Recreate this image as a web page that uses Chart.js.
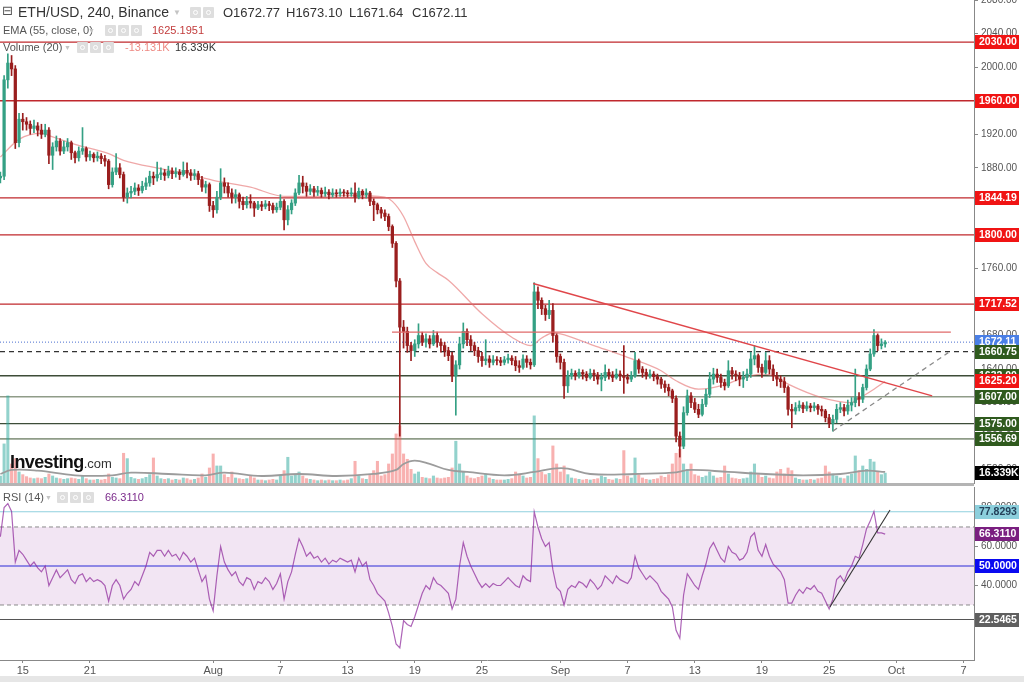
<!DOCTYPE html>
<html>
<head>
<meta charset="utf-8">
<script src="https://cdn.jsdelivr.net/npm/chart.js@4.4.1/dist/chart.umd.min.js"></script>
<style>
html,body{margin:0;padding:0;background:#fff}
body{width:1024px;height:682px;overflow:hidden;position:relative;font-family:"Liberation Sans",Arial,sans-serif}
#mainBox{position:absolute;left:0;top:0;width:1024px;height:484px}
#rsiBox{position:absolute;left:0;top:485px;width:1024px;height:197px}
#sep{position:absolute;left:0;top:483px;width:974px;height:3px;background:#b4b4b4}
#foot{position:absolute;left:0;top:676px;width:1024px;height:6px;background:#e6e6e6}
.t{position:absolute;white-space:nowrap;line-height:1;z-index:5}
.ic{position:absolute;width:11px;height:11px;background:#dedede;border-radius:1px;z-index:5}
.ic::after{content:'';position:absolute;left:3px;top:3px;width:5px;height:5px;border:1px solid #fff;border-radius:50%;box-sizing:border-box}
</style>
</head>
<body>
<div id="foot"></div>
<div id="mainBox"><canvas id="main"></canvas></div>
<div id="rsiBox"><canvas id="rsi"></canvas></div>
<div id="sep"></div>

<div class="t" style="left:2px;top:4px;font-family:'DejaVu Sans';font-size:13px;color:#555">⊟</div>
<div class="t" style="left:18px;top:5px;font-size:14px;color:#333">ETH/USD, 240, Binance</div>
<div class="t" style="left:173px;top:9px;font-size:8px;color:#c4c4c4">▼</div>
<div class="ic" style="left:190px;top:7px"></div><div class="ic" style="left:203px;top:7px"></div>
<div class="t" style="left:223px;top:6px;font-size:13px;color:#333">O1672.77</div>
<div class="t" style="left:286px;top:6px;font-size:13px;color:#333">H1673.10</div>
<div class="t" style="left:349px;top:6px;font-size:13px;color:#333">L1671.64</div>
<div class="t" style="left:412px;top:6px;font-size:13px;color:#333">C1672.11</div>

<div class="t" style="left:3px;top:25px;font-size:11px;color:#555">EMA (55, close, 0)</div>
<div class="t" style="left:88px;top:27px;font-size:7px;color:#c4c4c4">▼</div>
<div class="ic" style="left:105px;top:25px"></div><div class="ic" style="left:118px;top:25px"></div><div class="ic" style="left:131px;top:25px"></div>
<div class="t" style="left:152px;top:25px;font-size:11px;color:#c23b3b">1625.1951</div>

<div class="t" style="left:3px;top:42px;font-size:11px;color:#555">Volume (20)</div>
<div class="t" style="left:64px;top:44px;font-size:7px;color:#c4c4c4">▼</div>
<div class="ic" style="left:77px;top:42px"></div><div class="ic" style="left:90px;top:42px"></div><div class="ic" style="left:103px;top:42px"></div>
<div class="t" style="left:125px;top:42px;font-size:11px;color:#ee8a84">-13.131K</div>
<div class="t" style="left:175px;top:42px;font-size:11px;color:#333">16.339K</div>

<div class="t" style="left:10px;top:453px;font-size:18px;font-weight:bold;letter-spacing:-0.6px;color:#111">Investing<span style="font-size:13px;font-weight:normal;letter-spacing:0;color:#333">.com</span></div>

<div class="t" style="left:3px;top:492px;font-size:11px;color:#555">RSI (14)</div>
<div class="t" style="left:45px;top:494px;font-size:7px;color:#c4c4c4">▼</div>
<div class="ic" style="left:57px;top:492px"></div><div class="ic" style="left:70px;top:492px"></div><div class="ic" style="left:83px;top:492px"></div>
<div class="t" style="left:105px;top:492px;font-size:11px;color:#7b2a8b">66.3110</div>

<script>
// ---------- DATA (ETH/USD, Binance, 8-hour bars from 13 Jul 2023 00:00 UTC) ----------
const FIRST_BAR = Date.UTC(2023, 6, 13);
const BAR_HOURS = 8;

const OPEN = [
1868,1870,1985,2005,1998,1910,1938,1935,1932,1927,
1930,1925,1920,1925,1895,1905,1912,1900,1905,1910,
1898,1892,1900,1903,1893,1896,1892,1894,1891,1888,
1860,1875,1880,1872,1845,1850,1852,1856,1853,1858,
1862,1870,1868,1872,1874,1871,1876,1873,1875,1872,
1877,1874,1871,1873,1866,1857,1860,1835,1830,1845,
1862,1858,1850,1845,1848,1840,1836,1840,1838,1832,
1836,1834,1837,1835,1830,1833,1840,1818,1830,1838,
1850,1862,1858,1852,1855,1851,1853,1849,1851,1848,
1850,1849,1851,1850,1849,1850,1845,1852,1848,1850,
1840,1836,1830,1826,1822,1810,1790,1745,1690,1685,
1668,1662,1670,1680,1672,1676,1670,1680,1672,1668,
1662,1656,1632,1645,1670,1685,1675,1668,1662,1655,
1650,1652,1648,1651,1650,1648,1651,1653,1650,1644,
1642,1652,1648,1645,1732,1722,1712,1705,1710,1680,
1655,1648,1620,1632,1635,1632,1636,1634,1630,1635,
1633,1628,1630,1636,1633,1630,1634,1632,1630,1628,
1632,1650,1640,1636,1632,1634,1631,1628,1622,1618,
1614,1605,1560,1548,1588,1608,1600,1592,1586,1598,
1610,1628,1634,1630,1624,1620,1638,1634,1632,1628,
1630,1634,1652,1656,1642,1636,1650,1640,1632,1628,
1625,1618,1592,1590,1594,1597,1593,1596,1594,1596,
1592,1590,1582,1575,1580,1592,1594,1590,1597,1600,
1606,1604,1618,1640,1658,1680,1668,1670];

const HIGH = [
1875,1990,2016,2014,2002,1945,1945,1940,1936,1937,
1934,1932,1932,1928,1910,1918,1915,1912,1915,1912,
1900,1905,1928,1905,1900,1898,1899,1897,1895,1890,
1880,1897,1885,1875,1856,1858,1862,1860,1864,1868,
1876,1875,1887,1880,1878,1882,1880,1880,1878,1887,
1886,1878,1878,1876,1870,1864,1862,1840,1852,1879,
1868,1862,1855,1854,1850,1845,1846,1848,1840,1840,
1840,1841,1840,1838,1838,1848,1842,1835,1842,1855,
1871,1870,1862,1860,1858,1858,1856,1857,1854,1855,
1854,1855,1854,1853,1856,1862,1856,1854,1855,1852,
1843,1838,1833,1830,1825,1812,1792,1748,1698,1690,
1672,1675,1694,1684,1682,1680,1686,1684,1676,1672,
1666,1660,1650,1678,1695,1688,1680,1672,1666,1660,
1675,1656,1656,1655,1654,1655,1658,1656,1655,1650,
1657,1656,1652,1743,1738,1725,1716,1722,1718,1682,
1658,1652,1638,1640,1638,1640,1639,1637,1640,1639,
1636,1635,1645,1640,1637,1640,1638,1668,1634,1637,
1660,1652,1643,1640,1639,1637,1634,1630,1626,1622,
1616,1608,1565,1595,1615,1612,1605,1598,1604,1616,
1636,1641,1640,1634,1628,1650,1642,1638,1636,1637,
1640,1660,1668,1658,1646,1660,1656,1645,1636,1632,
1630,1620,1598,1600,1602,1600,1601,1599,1600,1598,
1596,1592,1586,1585,1598,1600,1598,1603,1606,1640,
1612,1622,1645,1664,1687,1682,1676,1674];

const LOW = [
1862,1866,1975,1990,1903,1905,1925,1925,1920,1922,
1918,1915,1917,1885,1878,1900,1895,1897,1900,1890,
1886,1888,1896,1888,1889,1887,1888,1885,1882,1855,
1857,1872,1868,1840,1838,1844,1848,1847,1850,1854,
1858,1860,1864,1866,1865,1868,1867,1869,1866,1870,
1868,1865,1866,1860,1852,1850,1828,1821,1826,1842,
1850,1845,1838,1838,1832,1830,1832,1832,1822,1830,
1829,1831,1829,1826,1827,1830,1806,1812,1825,1835,
1848,1850,1846,1848,1846,1847,1845,1846,1843,1845,
1845,1846,1846,1845,1846,1839,1843,1843,1844,1835,
1817,1825,1820,1817,1805,1785,1738,1560,1665,1660,
1650,1655,1665,1668,1666,1665,1668,1666,1660,1655,
1650,1625,1585,1640,1665,1668,1662,1656,1648,1643,
1645,1642,1645,1645,1644,1645,1647,1645,1638,1636,
1640,1642,1640,1643,1712,1705,1698,1700,1672,1648,
1640,1605,1612,1628,1627,1629,1628,1626,1628,1626,
1622,1614,1626,1628,1625,1628,1626,1611,1623,1625,
1630,1635,1630,1628,1629,1626,1622,1617,1612,1608,
1600,1553,1535,1545,1585,1594,1588,1582,1584,1595,
1606,1622,1624,1618,1615,1618,1628,1626,1620,1618,
1626,1630,1645,1636,1630,1634,1634,1626,1620,1618,
1612,1585,1570,1586,1590,1588,1590,1589,1590,1586,
1584,1577,1570,1566,1576,1588,1584,1586,1590,1595,
1596,1600,1615,1638,1655,1662,1664,1666];

const CLOSE = [
1870,1985,2005,1998,1910,1938,1935,1932,1927,1930,
1925,1920,1925,1895,1905,1912,1900,1905,1910,1898,
1892,1900,1903,1893,1896,1892,1894,1891,1888,1860,
1875,1880,1872,1845,1850,1852,1856,1853,1858,1862,
1870,1868,1872,1874,1871,1876,1873,1875,1872,1877,
1874,1871,1873,1866,1857,1860,1835,1830,1845,1862,
1858,1850,1845,1848,1840,1836,1840,1838,1832,1836,
1834,1837,1835,1830,1833,1840,1818,1830,1838,1850,
1862,1858,1852,1855,1851,1853,1849,1851,1848,1850,
1849,1851,1850,1849,1850,1845,1852,1848,1850,1840,
1836,1830,1826,1822,1810,1790,1745,1690,1685,1668,
1662,1670,1680,1672,1676,1670,1680,1672,1668,1662,
1656,1632,1645,1670,1685,1675,1668,1662,1655,1650,
1652,1648,1651,1650,1648,1651,1653,1650,1644,1642,
1652,1648,1645,1732,1722,1712,1705,1710,1680,1655,
1648,1620,1632,1635,1632,1636,1634,1630,1635,1633,
1628,1630,1636,1633,1630,1634,1632,1630,1628,1632,
1650,1640,1636,1632,1634,1631,1628,1622,1618,1614,
1605,1560,1548,1588,1608,1600,1592,1586,1598,1610,
1628,1634,1630,1624,1620,1638,1634,1632,1628,1630,
1634,1652,1656,1642,1636,1650,1640,1632,1628,1625,
1618,1592,1590,1594,1597,1593,1596,1594,1596,1592,
1590,1582,1575,1580,1592,1594,1590,1597,1600,1606,
1604,1618,1640,1658,1680,1668,1670,1672.11];

// Volume per bar, thousands of ETH
const VOLUME = [
12,60,132,30,38,18,14,11,9,8,
9,8,10,15,12,9,8,7,8,9,
8,7,12,8,6,6,7,6,7,15,
10,9,8,46,38,10,8,7,8,10,
14,39,12,8,7,8,6,7,6,9,
8,6,7,9,15,10,24,45,27,27,
14,10,18,9,8,7,8,12,9,6,
6,5,6,7,6,12,20,40,12,14,
18,12,8,7,6,5,6,5,6,5,
5,6,5,6,8,34,12,8,7,14,
20,34,12,14,30,45,75,87,45,37,
22,15,18,10,9,8,12,9,8,9,
10,24,64,30,18,12,9,8,10,12,
15,9,7,6,6,6,7,8,18,14,
12,9,10,102,38,18,14,16,57,30,
18,27,14,9,8,7,6,7,6,7,
8,12,10,7,6,8,7,50,12,9,
39,14,9,7,6,7,8,12,10,14,
30,46,52,30,22,30,14,12,10,12,
18,12,9,10,27,15,9,8,7,8,
9,18,30,14,10,12,9,8,18,22,
15,24,20,9,7,6,6,7,6,8,
9,27,18,15,12,9,8,12,15,42,
20,27,22,37,33,18,14,16.339];

// Volume moving average (20), read at selected bars: [bar, thousands]
const VOL_MA_BAR = [0,3,10,20,30,35,45,55,60,70,80,90,100,106,108,111,115,120,125,135,143,148,152,158,170,180,185,195,205,215,225,232,237];
const VOL_MA_VAL = [15,21,20,13,13,17,15,13,17,12,15,12,15,21,30,35,30,21,18,13,18,23,23,15,15,17,21,18,15,13,15,20,18];

// EMA (55, close) read at selected bars
const EMA_BAR = [0,5,11,14,20,29,33,43,50,57,67,76,85,94,103,105,108,111,114,117,120,129,137,142,145,148,150,159,168,177,181,187,194,198,204,207,211,220,228,230,234,237];
const EMA_VAL = [1893,1914,1921,1917,1908,1897,1889,1879,1873,1865,1857,1846,1846,1847,1845,1840,1822,1792,1766,1755,1746,1706,1678,1668,1677,1683,1682,1668,1654,1638,1626,1616,1621,1628,1634,1632,1622,1606,1600,1605,1616,1625.2];

// RSI (14) per bar
const RSI = [
65,80,82,78,52,58,56,53,50,52,
49,47,50,40,44,48,44,46,48,43,
41,45,46,42,44,42,43,42,40,32,
40,43,40,33,36,38,42,40,45,50,
57,55,58,58,55,58,55,56,53,57,
55,52,54,48,42,45,33,27,45,60,
52,48,45,47,42,40,44,43,38,42,
41,44,42,38,41,46,33,42,47,56,
64,60,55,57,54,55,52,54,51,53,
52,54,53,52,53,47,54,50,52,43,
40,36,34,32,26,19,10,8,22,20,
19,24,30,36,40,38,44,41,40,38,
36,28,33,50,62,55,50,46,42,39,
41,39,41,40,40,42,44,42,40,39,
45,43,42,77.8,70,64,60,62,48,39,
37,30,38,40,39,42,41,39,43,41,
38,40,45,43,41,45,43,42,41,44,
55,49,46,43,45,43,41,37,35,33,
29,17,13,35,46,43,40,38,45,51,
59,62,58,54,52,60,57,56,53,54,
57,65,67,58,55,61,55,51,49,47,
43,31,31,35,38,36,39,38,40,37,
36,32,28,33,43,45,42,47,50,55,
54,61,69,73,78,67,67,66.31];

// Axis tick labels
const TICK_DATES = ['2023-07-15','2023-07-21','2023-08-01','2023-08-07','2023-08-13','2023-08-19','2023-08-25','2023-09-01','2023-09-07','2023-09-13','2023-09-19','2023-09-25','2023-10-01','2023-10-07'];
const TICK_LABELS = ['15','21','Aug','7','13','19','25','Sep','7','13','19','25','Oct','7'];
const PRICE_TICKS = [1520,1560,1600,1640,1680,1720,1760,1800,1840,1880,1920,1960,2000,2040,2080];
const RSI_TICKS = [20,40,60,80];

// Drawn levels
const RESISTANCE = [2030, 1960, 1844.19, 1800, 1717.52];
const SUPPORT_DARK = [1632, 1575];
const SUPPORT_LIGHT = [1607, 1556.69];
const PIVOT = 1660.75;
const LAST_PRICE = 1672.11;
const EMA_LAST = 1625.20;
const VOL_LAST = 16.339;
const RANGE_TOP = {price: 1684, fromBar: 104.9, toBar: 254.6};
const TREND_DOWN = [[142.7, 1742], [249.6, 1608]];
const TREND_UP = [[223.0, 1566], [253.9, 1659.6]];
const RSI_LEVELS = {upper: 70, mid: 50, lower: 30, high: 77.8293, low: 22.5465, last: 66.3110};
const RSI_TREND = [[222.2, 29], [238.3, 78.7]];

// ---------- VIEW ----------
const X_MIN = -0.1, X_MAX = 260.8;
const P_MIN = 1502.9, P_MAX = 2080.2;
const VOL_MAX = 724.5;
const R_MIN = 1.8, R_MAX = 90.5;
const UP = '#34a084', DOWN = '#9a1e1e';
const barOf = d => (Date.parse(d + 'T00:00:00Z') - FIRST_BAR) / (BAR_HOURS * 3600e3);

Chart.defaults.font.family = '"Liberation Sans", Arial, sans-serif';

const candleColors = CLOSE.map((c, i) => c >= OPEN[i] ? UP : DOWN);
const volColors = CLOSE.map((c, i) => c >= OPEN[i] ? 'rgba(38,166,154,0.5)' : 'rgba(239,83,80,0.45)');

function hline(ctx, a, y, color, width, dash, x0, x1) {
  ctx.save();
  ctx.strokeStyle = color; ctx.lineWidth = width; ctx.setLineDash(dash || []);
  ctx.beginPath(); ctx.moveTo(x0 ?? a.left, y); ctx.lineTo(x1 ?? a.right, y); ctx.stroke();
  ctx.restore();
}
function seg(ctx, p0, p1, color, width, dash) {
  ctx.save();
  ctx.strokeStyle = color; ctx.lineWidth = width; ctx.setLineDash(dash || []);
  ctx.beginPath(); ctx.moveTo(p0[0], p0[1]); ctx.lineTo(p1[0], p1[1]); ctx.stroke();
  ctx.restore();
}
function tag(ctx, x, y, text, bg, fg) {
  ctx.save();
  ctx.fillStyle = bg; ctx.fillRect(x, Math.round(y) - 7, 44, 14);
  ctx.fillStyle = fg; ctx.font = 'bold 10.5px "Liberation Sans", Arial';
  ctx.textBaseline = 'middle'; ctx.textAlign = 'left';
  ctx.fillText(text, x + 4, Math.round(y) + 0.5);
  ctx.restore();
}

const mainDecor = {
  id: 'mainDecor',
  beforeDatasetsDraw(chart) {
    const {ctx, chartArea: a, scales: {x, y}} = chart;
    ctx.save();
    ctx.beginPath(); ctx.rect(a.left, a.top, a.right - a.left, a.bottom - a.top); ctx.clip();
    RESISTANCE.forEach(v => hline(ctx, a, y.getPixelForValue(v), '#c0282d', 1.3));
    SUPPORT_DARK.forEach(v => hline(ctx, a, y.getPixelForValue(v), '#3d4d38', 1.3));
    SUPPORT_LIGHT.forEach(v => hline(ctx, a, y.getPixelForValue(v), '#8f9c88', 1.6));
    hline(ctx, a, y.getPixelForValue(PIVOT), '#333', 1.1, [5, 4]);
    hline(ctx, a, y.getPixelForValue(LAST_PRICE), '#4a6fd0', 1, [1, 2]);
    ctx.restore();
  },
  afterDatasetsDraw(chart) {
    const {ctx, chartArea: a, scales: {x, y}} = chart;
    ctx.save();
    ctx.beginPath(); ctx.rect(a.left, a.top, a.right - a.left, a.bottom - a.top); ctx.clip();
    hline(ctx, a, y.getPixelForValue(RANGE_TOP.price), '#e06a6a', 1.3,
      null, x.getPixelForValue(RANGE_TOP.fromBar), x.getPixelForValue(RANGE_TOP.toBar));
    const P = p => [x.getPixelForValue(p[0]), y.getPixelForValue(p[1])];
    seg(ctx, P(TREND_DOWN[0]), P(TREND_DOWN[1]), '#e0464a', 1.5);
    seg(ctx, P(TREND_UP[0]), P(TREND_UP[1]), '#8a8a8a', 1.3, [5, 4]);
    ctx.restore();
  },
  afterDraw(chart) {
    const {ctx, chartArea: a, scales: {y, yVol}} = chart;
    const lx = a.right + 1;
    RESISTANCE.forEach(v => tag(ctx, lx, y.getPixelForValue(v), v.toFixed(2), '#f01414', '#fff'));
    tag(ctx, lx, y.getPixelForValue(LAST_PRICE), LAST_PRICE.toFixed(2), '#4a7fe6', '#fff');
    tag(ctx, lx, y.getPixelForValue(PIVOT), PIVOT.toFixed(2), '#2f5a1e', '#fff');
    tag(ctx, lx, y.getPixelForValue(1632), (1632).toFixed(2), '#2f5a1e', '#fff');
    tag(ctx, lx, y.getPixelForValue(EMA_LAST), EMA_LAST.toFixed(2), '#f01414', '#fff');
    [1607, 1575, 1556.69].forEach(v => tag(ctx, lx, y.getPixelForValue(v), v.toFixed(2), '#2f5a1e', '#fff'));
    tag(ctx, lx, yVol.getPixelForValue(VOL_LAST), VOL_LAST.toFixed(3) + 'K', '#000', '#fff');
  }
};

new Chart(document.getElementById('main'), {
  type: 'bar',
  data: {
    datasets: [
      {type: 'bar', yAxisID: 'yVol', data: VOLUME.map((v, i) => ({x: i, y: v})),
        backgroundColor: volColors, barThickness: 2.4, grouped: false, order: 6},
      {type: 'line', yAxisID: 'yVol', data: VOL_MA_BAR.map((b, i) => ({x: b, y: VOL_MA_VAL[i]})),
        borderColor: '#9c9c9c', borderWidth: 1.8, pointRadius: 0, tension: 0.4, order: 5},
      {type: 'line', yAxisID: 'y', data: EMA_BAR.map((b, i) => ({x: b, y: EMA_VAL[i]})),
        borderColor: 'rgba(228,110,110,0.6)', borderWidth: 1.3, pointRadius: 0,
        cubicInterpolationMode: 'monotone', order: 4},
      {type: 'bar', yAxisID: 'y', data: LOW.map((l, i) => ({x: i, y: [l, HIGH[i]]})),
        backgroundColor: candleColors, barThickness: 1, grouped: false, order: 3},
      {type: 'bar', yAxisID: 'y', data: OPEN.map((o, i) => ({x: i, y: [o, CLOSE[i]]})),
        backgroundColor: candleColors, barThickness: 2.6, grouped: false, minBarLength: 1, order: 2}
    ]
  },
  options: {
    responsive: true, maintainAspectRatio: false, animation: false,
    layout: {padding: 0},
    plugins: {legend: {display: false}, tooltip: {enabled: false}},
    scales: {
      x: {type: 'linear', min: X_MIN, max: X_MAX, offset: false, display: false},
      y: {
        position: 'right', min: P_MIN, max: P_MAX,
        afterBuildTicks: s => { s.ticks = PRICE_TICKS.map(v => ({value: v})); },
        afterFit: s => { s.width = 50; s.paddingTop = 0; s.paddingBottom = 0; },
        ticks: {callback: v => Number(v).toFixed(2), color: '#555', font: {size: 10}, padding: 3, autoSkip: false},
        grid: {drawOnChartArea: false, tickLength: 4, color: '#888'},
        border: {color: '#888'}
      },
      yVol: {display: false, min: 0, max: VOL_MAX}
    }
  },
  plugins: [mainDecor]
});

const rsiDecor = {
  id: 'rsiDecor',
  beforeDatasetsDraw(chart) {
    const {ctx, chartArea: a, scales: {y}} = chart;
    const yu = y.getPixelForValue(RSI_LEVELS.upper), yl = y.getPixelForValue(RSI_LEVELS.lower);
    ctx.save();
    ctx.fillStyle = '#f2e5f3';
    ctx.fillRect(a.left, yu, a.right - a.left, yl - yu);
    ctx.restore();
    hline(ctx, a, yu, '#8a8a8a', 1, [4, 3]);
    hline(ctx, a, yl, '#8a8a8a', 1, [4, 3]);
    hline(ctx, a, y.getPixelForValue(RSI_LEVELS.mid), '#2a2ad8', 1.1);
    hline(ctx, a, y.getPixelForValue(RSI_LEVELS.high), '#8fd0de', 1.1);
    hline(ctx, a, y.getPixelForValue(RSI_LEVELS.low), '#555', 1.1);
  },
  afterDatasetsDraw(chart) {
    const {ctx, scales: {x, y}} = chart;
    const P = p => [x.getPixelForValue(p[0]), y.getPixelForValue(p[1])];
    seg(ctx, P(RSI_TREND[0]), P(RSI_TREND[1]), '#333', 1.1);
  },
  afterDraw(chart) {
    const {ctx, chartArea: a, scales: {y}} = chart;
    const lx = a.right + 1;
    tag(ctx, lx, y.getPixelForValue(RSI_LEVELS.high), RSI_LEVELS.high.toFixed(4), '#8ccfdc', '#24415a');
    tag(ctx, lx, y.getPixelForValue(RSI_LEVELS.last), RSI_LEVELS.last.toFixed(4), '#7a1f80', '#fff');
    tag(ctx, lx, y.getPixelForValue(RSI_LEVELS.mid), RSI_LEVELS.mid.toFixed(4), '#0a0af0', '#fff');
    tag(ctx, lx, y.getPixelForValue(RSI_LEVELS.low), RSI_LEVELS.low.toFixed(4), '#5f5f5f', '#fff');
  }
};

new Chart(document.getElementById('rsi'), {
  type: 'line',
  data: {
    datasets: [{
      data: RSI.map((r, i) => ({x: i, y: r})),
      borderColor: 'rgba(142,40,155,0.72)', borderWidth: 1.2, pointRadius: 0, tension: 0
    }]
  },
  options: {
    responsive: true, maintainAspectRatio: false, animation: false,
    layout: {padding: {top: 2, left: 0, right: 0, bottom: 0}},
    plugins: {legend: {display: false}, tooltip: {enabled: false}},
    scales: {
      x: {
        type: 'linear', min: X_MIN, max: X_MAX, offset: false,
        afterBuildTicks: s => { s.ticks = TICK_DATES.map(d => ({value: barOf(d)})); },
        afterFit: s => { s.height = 22; s.paddingLeft = 0; s.paddingRight = 0; },
        ticks: {callback: (v, i) => TICK_LABELS[i], color: '#555', font: {size: 11}, padding: 1, autoSkip: false, maxRotation: 0},
        grid: {drawOnChartArea: false, tickLength: 3, color: '#888'},
        border: {color: '#888'}
      },
      y: {
        position: 'right', min: R_MIN, max: R_MAX,
        afterBuildTicks: s => { s.ticks = RSI_TICKS.map(v => ({value: v})); },
        afterFit: s => { s.width = 50; s.paddingTop = 0; s.paddingBottom = 0; },
        ticks: {callback: v => Number(v).toFixed(4), color: '#555', font: {size: 10}, padding: 3, autoSkip: false},
        grid: {drawOnChartArea: false, tickLength: 4, color: '#888'},
        border: {color: '#888'}
      }
    }
  },
  plugins: [rsiDecor]
});
</script>
</body>
</html>
